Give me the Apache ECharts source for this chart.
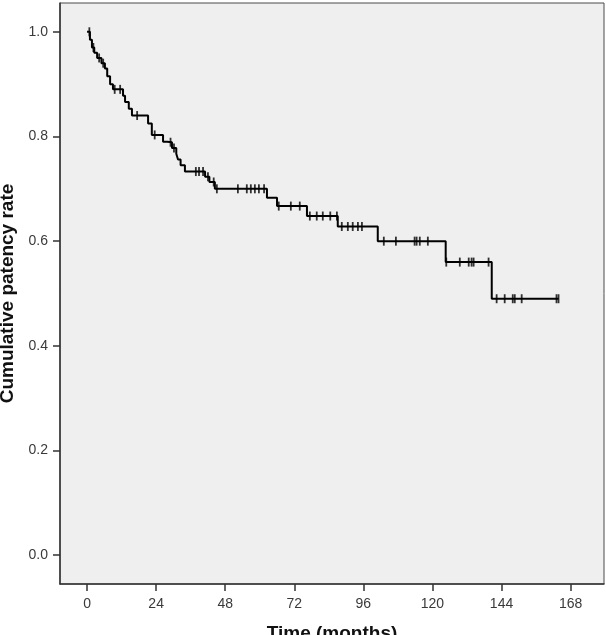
<!DOCTYPE html>
<html>
<head>
<meta charset="utf-8">
<script src="https://cdn.jsdelivr.net/npm/echarts@6/dist/echarts.min.js"></script>
<style>
  html, body { margin: 0; padding: 0; background: #fff; }
  #chart { width: 606px; height: 635px; }
</style>
</head>
<body>
<div id="chart"></div>
<script>
// Kaplan-Meier steps: time (months) of each drop and survival right after it
const eventTimes = [0, 1.0, 1.7, 2.5, 3.5, 5.0, 6.2, 7.0, 8.0, 9.0, 12.5, 13.2, 14.5, 15.6,
  21.2, 22.5, 26.4, 27.8, 29.5, 31.0, 31.6, 32.5, 34.0, 41.0, 42.5, 44.4,
  62.5, 66.0, 76.4, 87.1, 101.0, 124.6, 140.6, 163.8]
const survival = [1.0, 0.985, 0.97, 0.96, 0.95, 0.94, 0.93, 0.915, 0.90, 0.89, 0.878, 0.866, 0.853, 0.84,
  0.825, 0.803, 0.79, 0.789, 0.778, 0.767, 0.756, 0.745, 0.733, 0.723, 0.713, 0.70,
  0.683, 0.667, 0.648, 0.628, 0.60, 0.56, 0.49, 0.49]

// censored observations (months)
const censorTimes = [0.8, 2.2, 4.2, 5.6, 9.6, 11.5, 17.4, 23.5, 29.0, 30.2, 37.8, 38.9, 40.3,
  42.0, 44.0, 45.1, 52.4, 55.5, 56.9, 58.3, 59.7, 61.5, 66.6, 70.8, 73.9, 77.4, 79.8, 81.9,
  84.5, 86.8, 88.5, 90.6, 92.3, 94.1, 95.5, 103.1, 107.3, 113.8, 114.5, 115.6, 118.4, 124.8,
  129.5, 132.6, 133.6, 134.3, 139.5, 142.3, 145.1, 147.9, 148.6, 151.0, 163.1, 163.8]

const xTicks = [0, 24, 48, 72, 96, 120, 144, 168]
const yTicks = [0, 0.2, 0.4, 0.6, 0.8, 1.0]

// survival at time t (step function)
const survAt = (t) => {
  let s = survival[0]
  for (let i = 0; i < eventTimes.length; i++) {
    if (eventTimes[i] <= t) s = survival[i]
  }
  return s
}

const lineData = eventTimes.map((t, i) => [t, survival[i]])
const censorData = censorTimes.map(t => [t, survAt(t)])

const labelFont = { fontFamily: 'Liberation Sans, Arial, sans-serif', fontSize: 14, color: '#3a3a3a' }
const nameFont = { fontFamily: 'Liberation Sans, Arial, sans-serif', fontSize: 19, fontWeight: 'bold', color: '#111' }

const chart = echarts.init(document.getElementById('chart'))
chart.setOption({
  animation: false,
  backgroundColor: '#fff',
  grid: {
    left: 60, right: 2, top: 3, bottom: 51,
    outerBoundsMode: 'none',
    containLabel: false,
    show: true,
    backgroundColor: '#efefef',
    borderColor: '#4a4a4a',
    borderWidth: 1
  },
  xAxis: {
    type: 'value',
    min: -9.4,
    max: 179.6,
    name: 'Time (months)',
    nameLocation: 'middle',
    nameGap: 40,
    nameTextStyle: nameFont,
    axisLine: { show: true, onZero: false, lineStyle: { color: '#333', width: 1.5 } },
    axisTick: { show: true, customValues: xTicks, length: 7, lineStyle: { color: '#333', width: 1.5 } },
    axisLabel: { customValues: xTicks, margin: 13, ...labelFont },
    splitLine: { show: false }
  },
  yAxis: {
    type: 'value',
    min: -0.055,
    max: 1.055,
    name: 'Cumulative patency rate',
    nameLocation: 'middle',
    nameGap: 41,
    nameRotate: 90,
    nameTextStyle: nameFont,
    axisLine: { show: true, onZero: false, lineStyle: { color: '#333', width: 1.5 } },
    axisTick: { show: true, customValues: yTicks, length: 7, lineStyle: { color: '#333', width: 1.5 } },
    axisLabel: { customValues: yTicks, margin: 12, formatter: v => v.toFixed(1), ...labelFont },
    splitLine: { show: false }
  },
  series: [
    {
      type: 'line',
      step: 'end',
      data: lineData,
      showSymbol: false,
      lineStyle: { color: '#000', width: 2 },
      z: 2
    },
    {
      type: 'scatter',
      data: censorData,
      symbol: 'rect',
      symbolSize: [1.8, 9],
      itemStyle: { color: '#000' },
      z: 3
    }
  ]
})
</script>
</body>
</html>
